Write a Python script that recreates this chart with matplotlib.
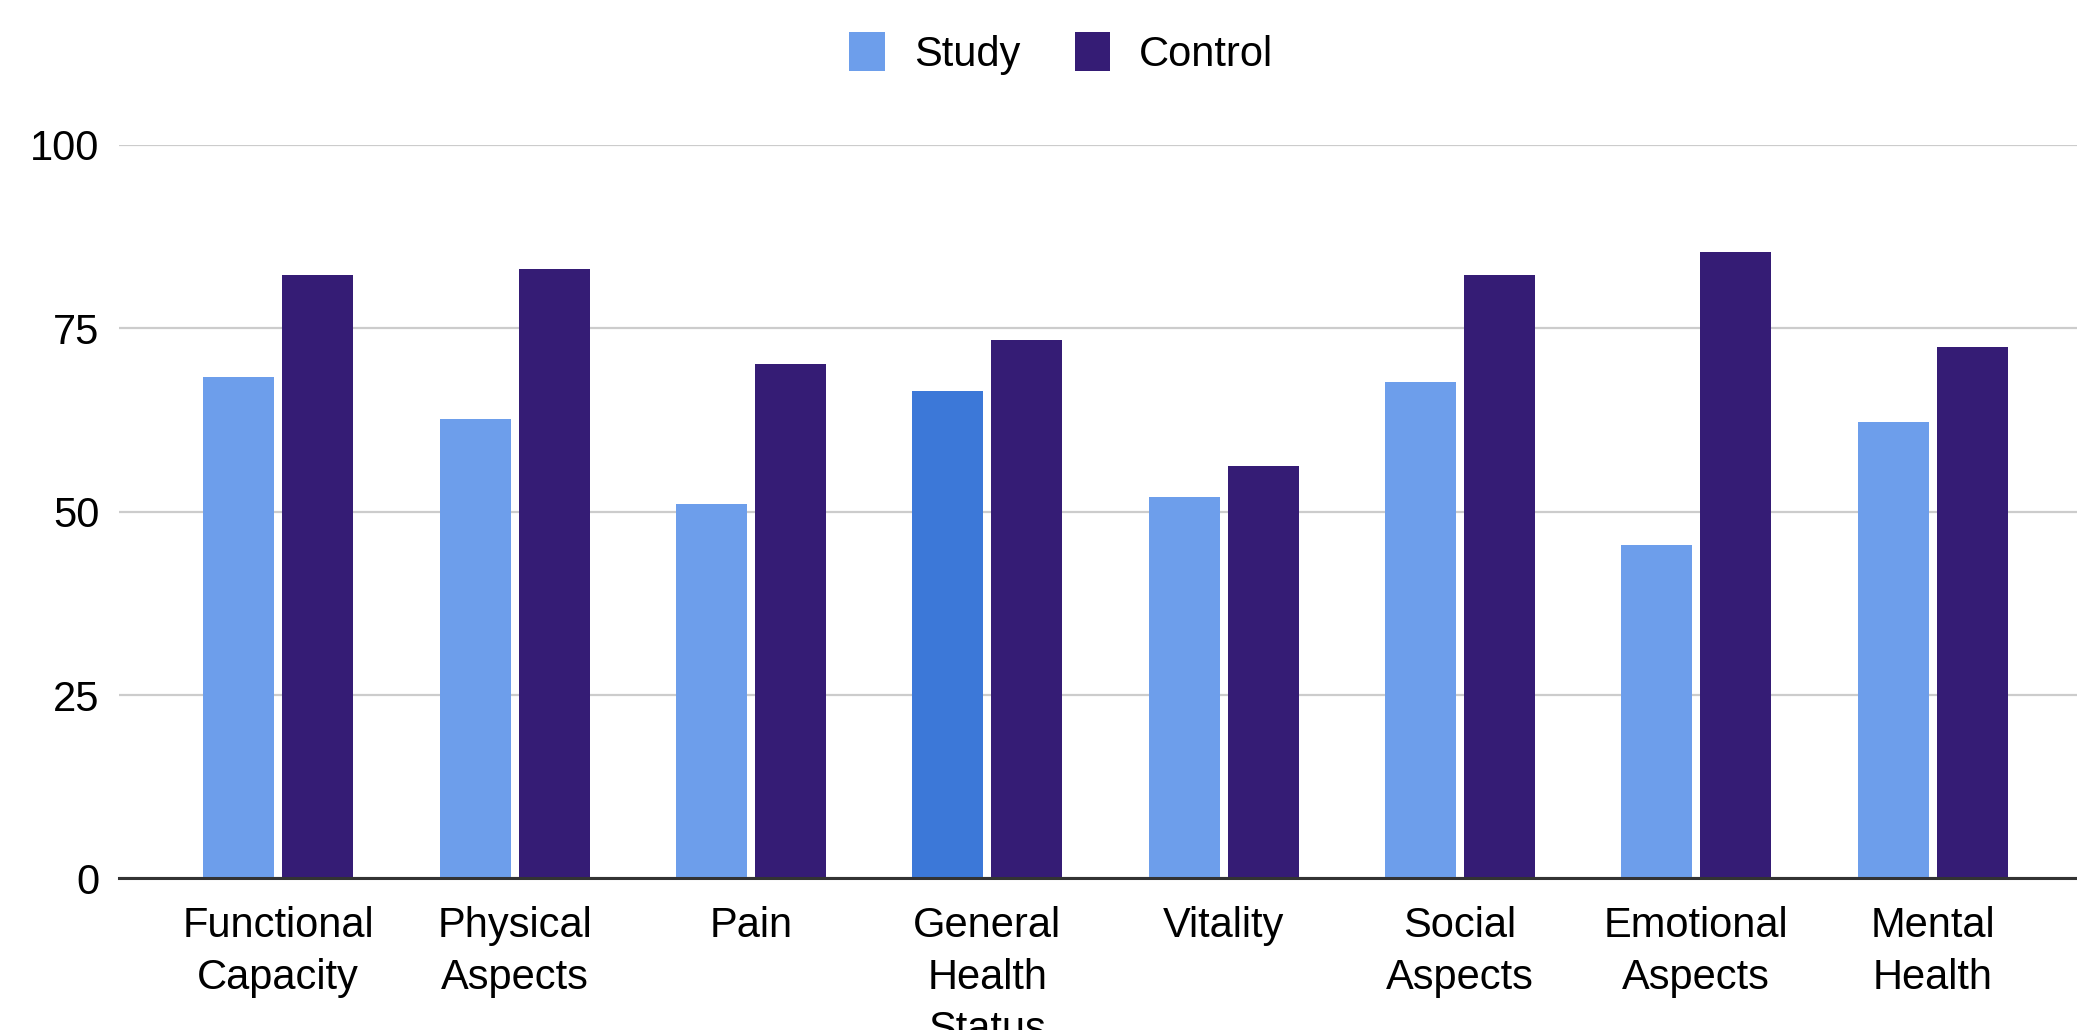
import matplotlib
matplotlib.use("Agg")
import matplotlib.pyplot as plt
from matplotlib.patches import Patch
import numpy as np

categories = ["Functional\nCapacity", "Physical\nAspects", "Pain", "General\nHealth\nStatus",
              "Vitality", "Social\nAspects", "Emotional\nAspects", "Mental\nHealth"]
study = [68.3, 62.6, 51.1, 66.4, 52.0, 67.7, 45.5, 62.2]
control = [82.2, 83.1, 70.1, 73.4, 56.2, 82.2, 85.4, 72.4]
yticks = [0, 25, 50, 75, 100]

study_color = "#6d9eeb"
study_highlight = "#3c78d8"
control_color = "#351c75"

plt.rcParams["font.family"] = ["Liberation Sans", "DejaVu Sans"]

fig = plt.figure(figsize=(20.77, 10.30), dpi=100)
ax = fig.add_axes([0.0573, 0.1472, 0.9427, 0.7121])

x = np.arange(len(categories))
w = 0.30
off = 0.167
study_colors = [study_color] * len(categories)
study_colors[3] = study_highlight
ax.bar(x - off, study, width=w, color=study_colors, zorder=3)
ax.bar(x + off, control, width=w, color=control_color, zorder=3)

ax.set_xlim(-0.674, 7.611)
ax.set_ylim(0, 100)
ax.set_yticks(yticks)
ax.set_xticks(x)
ax.set_xticklabels(categories, fontsize=30, linespacing=1.38)
ax.tick_params(axis="y", labelsize=30, length=0, pad=14)
ax.tick_params(axis="x", length=0, pad=20)
for s in ax.spines.values():
    s.set_visible(False)
ax.yaxis.grid(True, color="#cccccc", linewidth=1.6, zorder=0)
ax.axhline(0, color="#333333", linewidth=2.2, zorder=4, clip_on=False)

leg_handles = [Patch(facecolor=study_color), Patch(facecolor=control_color)]
fig.legend(leg_handles, ["Study", "Control"], loc="center", bbox_to_anchor=(0.511, 0.948),
           ncol=2, frameon=False, fontsize=30, handlelength=0.85, handleheight=1.05,
           handletextpad=0.7, columnspacing=1.3)

fig.savefig("out.png", dpi=100)
